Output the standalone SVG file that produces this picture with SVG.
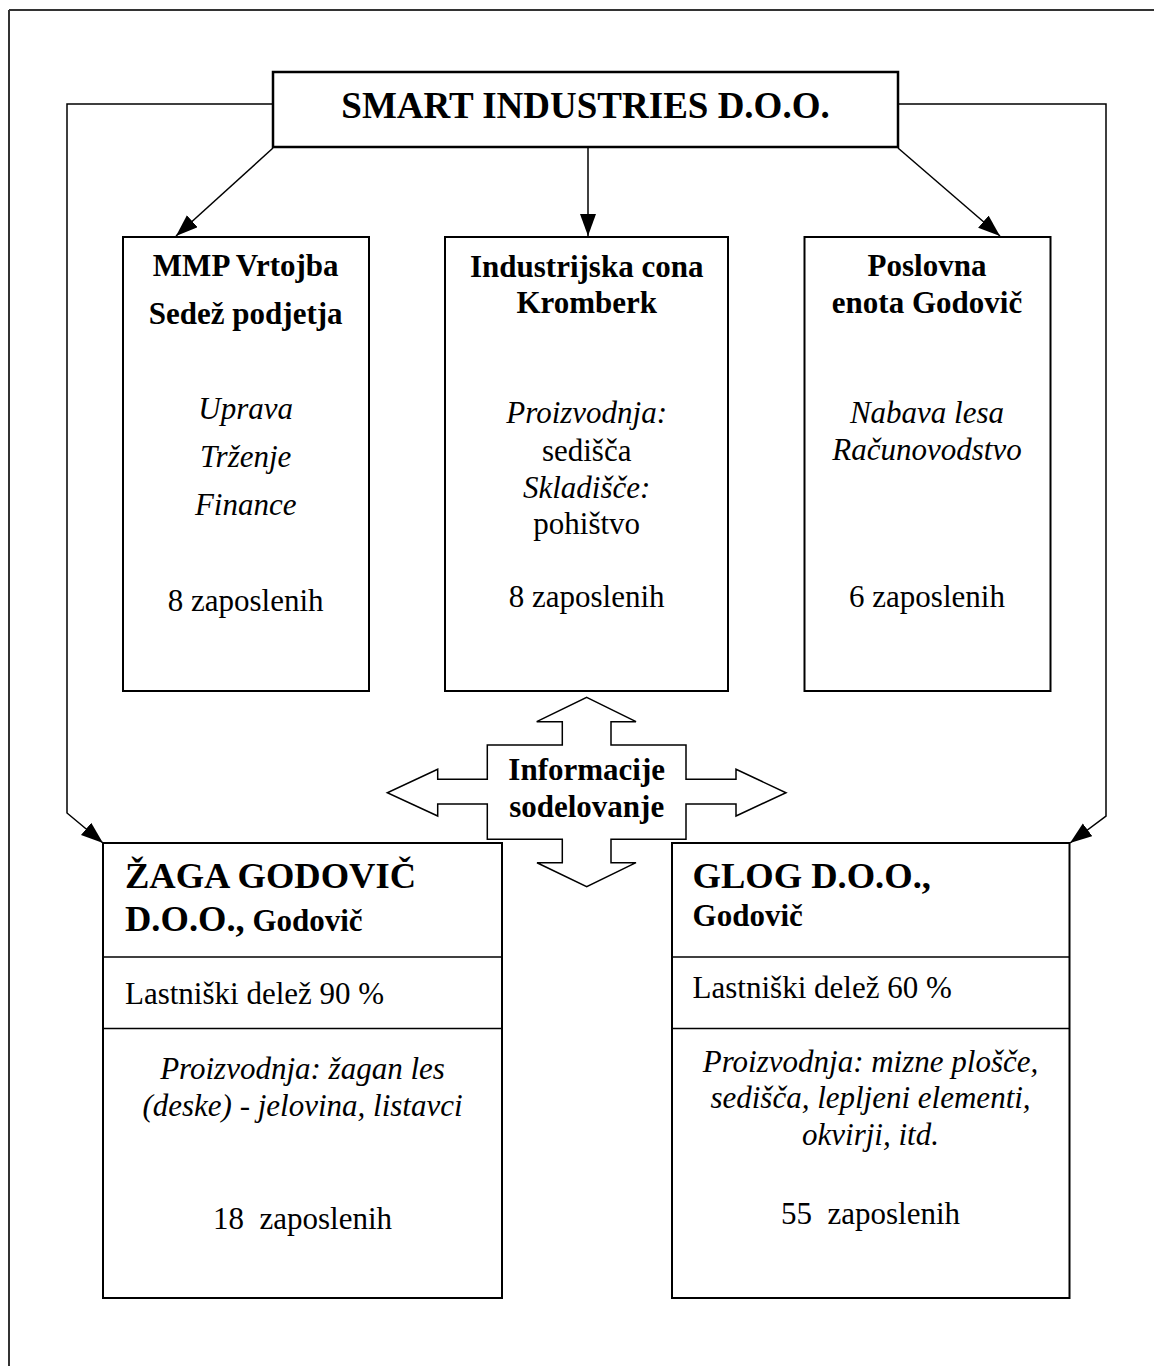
<svg xmlns="http://www.w3.org/2000/svg" width="1154" height="1366" viewBox="0 0 1154 1366">
<style>
text{font-family:"Liberation Serif","Times New Roman",serif;fill:#000}
.b{font-weight:bold}
.i{font-style:italic}
.m{text-anchor:middle}
.box{fill:#fff;stroke:#000;stroke-width:2}
.ln{fill:none;stroke:#000;stroke-width:1.5}
.s31{font-size:31px}
.s36{font-size:36.5px}
</style>
<defs>
<marker id="ah" markerUnits="userSpaceOnUse" markerWidth="24" markerHeight="18" refX="22" refY="8" orient="auto">
<path d="M0,0 L22,8 L0,16 Z" fill="#000"/>
</marker>
</defs>
<g id="page-border" stroke="#333" stroke-width="2" fill="none">
<line x1="9" y1="10" x2="1154" y2="10"/>
<line x1="9" y1="10" x2="9" y2="1366"/>
</g>
<g id="connectors">
<polyline class="ln" points="273,104 67,104 67,813 103,843" marker-end="url(#ah)"/>
<polyline class="ln" points="898,104 1106,104 1106,816 1070,843" marker-end="url(#ah)"/>
<line class="ln" x1="273" y1="148" x2="176" y2="236" marker-end="url(#ah)"/>
<line class="ln" x1="588" y1="148" x2="588" y2="236" marker-end="url(#ah)"/>
<line class="ln" x1="898" y1="148" x2="1000" y2="236" marker-end="url(#ah)"/>
</g>
<g id="smart-industries">
<rect x="273" y="72" width="625" height="75" fill="#fff" stroke="#000" stroke-width="2.5"/>
<text class="b m s36" x="585.5" y="118" style="font-size:37px">SMART INDUSTRIES D.O.O.</text>
</g>
<g id="mmp-vrtojba">
<rect class="box" x="123" y="237" width="246" height="454"/>
<text class="b m s31" x="245.7" y="276">MMP Vrtojba</text>
<text class="b m s31" x="245.7" y="324">Sedež podjetja</text>
<text class="i m s31" x="245.7" y="419">Uprava</text>
<text class="i m s31" x="245.7" y="467">Trženje</text>
<text class="i m s31" x="245.7" y="515">Finance</text>
<text class="m s31" x="245.7" y="611">8 zaposlenih</text>
</g>
<g id="industrijska-cona">
<rect class="box" x="445" y="237" width="283" height="454"/>
<text class="b m s31" x="586.7" y="276.5">Industrijska cona</text>
<text class="b m s31" x="586.7" y="313.3">Kromberk</text>
<text class="i m s31" x="586.7" y="423.3">Proizvodnja:</text>
<text class="m s31" x="586.7" y="460.7">sedišča</text>
<text class="i m s31" x="586.7" y="497.7">Skladišče:</text>
<text class="m s31" x="586.7" y="534">pohištvo</text>
<text class="m s31" x="586.7" y="606.7">8 zaposlenih</text>
</g>
<g id="poslovna-enota">
<rect class="box" x="804.5" y="237" width="246" height="454"/>
<text class="b m s31" x="927" y="276">Poslovna</text>
<text class="b m s31" x="927" y="313.3">enota Godovič</text>
<text class="i m s31" x="927" y="423.3">Nabava lesa</text>
<text class="i m s31" x="927" y="460">Računovodstvo</text>
<text class="m s31" x="927" y="606.7">6 zaposlenih</text>
</g>
<g id="informacije">
<polygon fill="#fff" stroke="#000" stroke-width="1.5" points="586.7,697.3 636,721.7 611,721.7 611,745 686,745 686,779.3 736,779.3 736,769.3 786,792.7 736,816 736,804 686,804 686,839.3 611,839.3 611,862.7 636,862.7 586.7,886.7 537,862.7 562.3,862.7 562.3,839.3 487.3,839.3 487.3,804 437.7,804 437.7,816 387.3,792.7 437.7,769.3 437.7,779.3 487.3,779.3 487.3,745 562.3,745 562.3,721.7 536.7,721.7"/>
<text class="b m s31" x="586.7" y="780">Informacije</text>
<text class="b m s31" x="586.7" y="817">sodelovanje</text>
</g>
<g id="zaga-godovic">
<rect class="box" x="103" y="843" width="399" height="455"/>
<line class="ln" x1="103" y1="957" x2="502" y2="957" stroke-width="2"/>
<line class="ln" x1="103" y1="1028.5" x2="502" y2="1028.5" stroke-width="2"/>
<text class="b s36" x="125" y="888.3">ŽAGA GODOVIČ</text>
<text class="b s36" x="125" y="931">D.O.O.,<tspan class="s31"> Godovič</tspan></text>
<text class="s31" x="125" y="1004">Lastniški delež 90 %</text>
<text class="i m s31" x="302.5" y="1079">Proizvodnja: žagan les</text>
<text class="i m s31" x="302.5" y="1116">(deske) - jelovina, listavci</text>
<text class="m s31" x="302.5" y="1229" xml:space="preserve">18  zaposlenih</text>
</g>
<g id="glog">
<rect class="box" x="672" y="843" width="397.5" height="455"/>
<line class="ln" x1="672" y1="957" x2="1069.5" y2="957" stroke-width="2"/>
<line class="ln" x1="672" y1="1028.5" x2="1069.5" y2="1028.5" stroke-width="2"/>
<text class="b s36" x="692.6" y="888.3">GLOG D.O.O.,</text>
<text class="b s31" x="692.6" y="925.7">Godovič</text>
<text class="s31" x="692.6" y="998.3">Lastniški delež 60 %</text>
<text class="i m s31" x="870.5" y="1071.7">Proizvodnja: mizne plošče,</text>
<text class="i m s31" x="870.5" y="1108.3">sedišča, lepljeni elementi,</text>
<text class="i m s31" x="870.5" y="1145">okvirji, itd.</text>
<text class="m s31" x="870.5" y="1224" xml:space="preserve">55  zaposlenih</text>
</g>
</svg>
